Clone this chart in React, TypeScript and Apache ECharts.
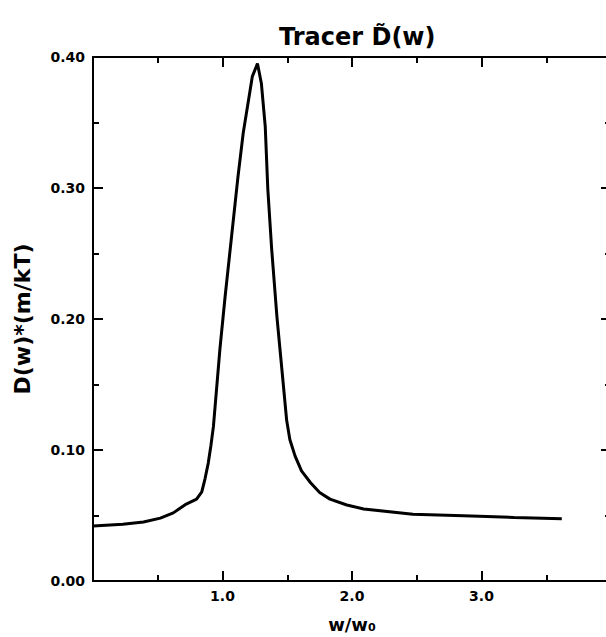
import React, { useEffect, useRef } from 'react';
import * as echarts from 'echarts';

// w/w0 values along the curve
const xValues = [
  0.0, 0.23, 0.39, 0.52, 0.62, 0.72, 0.8, 0.84, 0.865, 0.89, 0.91, 0.93, 0.98, 1.02, 1.07,
  1.12, 1.16, 1.23, 1.27, 1.3, 1.33, 1.35, 1.38, 1.42, 1.46, 1.495, 1.52, 1.56, 1.61, 1.68,
  1.75, 1.83, 1.96, 2.09, 2.47, 2.86, 3.25, 3.62,
];
// D(w)*(m/kT) values
const yValues = [
  0.042, 0.0434, 0.045, 0.048, 0.052, 0.0587, 0.0625, 0.068, 0.078, 0.09, 0.103, 0.118,
  0.177, 0.217, 0.263, 0.309, 0.342, 0.385, 0.395, 0.38, 0.347, 0.299, 0.253, 0.202, 0.16,
  0.123, 0.108, 0.0955, 0.084, 0.075, 0.0676, 0.0625, 0.058, 0.055, 0.051, 0.0498, 0.0485,
  0.0475,
];
const xTickLabels = ['1.0', '2.0', '3.0'];
const yTickLabels = ['0.00', '0.10', '0.20', '0.30', '0.40'];

const titleText = 'Tracer D\u0303(w)';
const xName = 'w/w\u2080';
const yName = 'D(w)*(m/kT)';

export default function App() {
  const ref = useRef<HTMLDivElement>(null);
  useEffect(() => {
    document.body.style.margin = '0';
    const chart = echarts.init(ref.current!, null, { renderer: 'svg' });
    const fontFamily = 'DejaVu Sans';
    const lineStyle = { color: '#000', width: 2 };
    const baseX = {
      type: 'value',
      min: 0,
      max: 4,
      interval: 1,
      axisLine: { show: true, onZero: false, lineStyle },
      axisTick: { show: true, inside: true, length: 10, lineStyle },
      minorTick: { show: true, splitNumber: 2, length: 6, lineStyle },
      splitLine: { show: false },
      minorSplitLine: { show: false },
    };
    const baseY = {
      type: 'value',
      min: 0,
      max: 0.4,
      interval: 0.1,
      axisLine: { show: true, onZero: false, lineStyle },
      axisTick: { show: true, inside: true, length: 10, lineStyle },
      minorTick: { show: true, splitNumber: 2, length: 6, lineStyle },
      splitLine: { show: false },
      minorSplitLine: { show: false },
    };
    chart.setOption({
      animation: false,
      backgroundColor: '#fff',
      title: {
        text: titleText,
        left: 274,
        top: 20,
        textStyle: { color: '#000', fontSize: 24, fontWeight: 'bold', fontFamily },
      },
      grid: {
        left: 93,
        top: 57,
        width: 518,
        height: 524,
        containLabel: false,
        outerBoundsMode: 'none',
      },
      xAxis: [
        {
          ...baseX,
          position: 'bottom',
          axisLabel: {
            margin: 8,
            color: '#000',
            fontSize: 14,
            fontWeight: 'bold',
            fontFamily,
            formatter: (v: number) => (xTickLabels.includes(v.toFixed(1)) ? v.toFixed(1) : ''),
          },
          name: xName,
          nameLocation: 'middle',
          nameGap: 34,
          nameTextStyle: { color: '#000', fontSize: 18, fontWeight: 'bold', fontFamily },
        },
        {
          ...baseX,
          position: 'top',
          axisLabel: { show: false },
        },
      ],
      yAxis: [
        {
          ...baseY,
          position: 'left',
          axisLabel: {
            margin: 8,
            color: '#000',
            fontSize: 14,
            fontWeight: 'bold',
            fontFamily,
            formatter: (v: number) => (yTickLabels.includes(v.toFixed(2)) ? v.toFixed(2) : ''),
          },
          name: yName,
          nameLocation: 'middle',
          nameGap: 60,
          nameTextStyle: { color: '#000', fontSize: 22, fontWeight: 'bold', fontFamily },
        },
        {
          ...baseY,
          position: 'right',
          axisLabel: { show: false },
        },
      ],
      series: [
        {
          type: 'line',
          xAxisIndex: 0,
          yAxisIndex: 0,
          data: xValues.map((x, i) => [x, yValues[i]]),
          showSymbol: false,
          symbol: 'none',
          lineStyle: { color: '#000', width: 3 },
          itemStyle: { color: '#000' },
        },
      ],
    });
    return () => chart.dispose();
  }, []);
  return <div ref={ref} style={{ width: 606, height: 637, background: '#fff' }} />;
}
